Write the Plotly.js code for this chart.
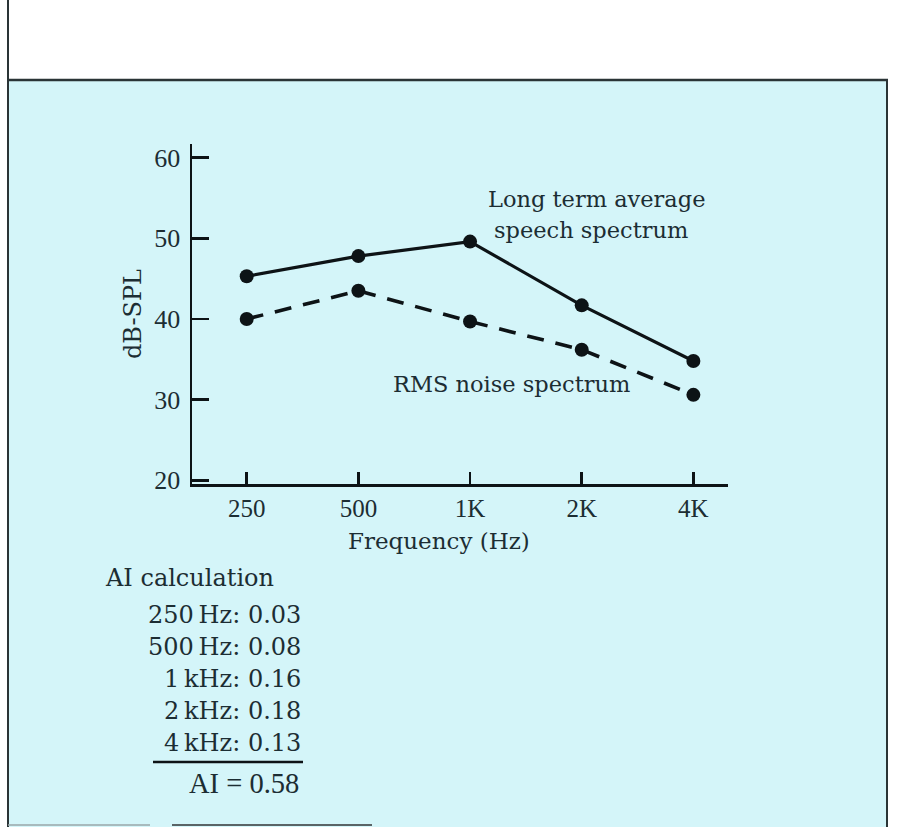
<!DOCTYPE html>
<html>
<head>
<meta charset="utf-8">
<script src="https://cdn.plot.ly/plotly-3.0.1.min.js"></script>
<style>html,body{margin:0;padding:0;background:#fff;}#chart{width:897px;height:827px;}</style>
</head>
<body>
<div id="chart"></div>
<script>
// ---- data ----
var freqLabels = ['250', '500', '1K', '2K', '4K'];
var speechLevels = [45.3, 47.8, 49.6, 41.7, 34.8];
var noiseLevels = [40.0, 43.5, 39.7, 36.2, 30.6];
var yTickVals = [20, 30, 40, 50, 60];
var aiBands = ['250\u2009Hz', '500\u2009Hz', '1\u2009kHz', '2\u2009kHz', '4\u2009kHz'];
var aiValues = ['0.03', '0.08', '0.16', '0.18', '0.13'];
var aiTotal = '0.58';

// ---- geometry helpers (pixel -> paper) ----
var W = 897, H = 827;
var M = {l: 192, r: 169, t: 144, b: 343};
var PW = W - M.l - M.r, PH = H - M.t - M.b;
function px(x) { return (x - M.l) / PW; }
function py(y) { return (H - M.b - y) / PH; }

var ink = '#1c2d33';
var lineInk = '#0d1316';
var serif = 'DejaVu Serif, serif';
var times = 'Liberation Serif, serif';

var traces = [
  {x: freqLabels, y: speechLevels, type: 'scatter', mode: 'lines+markers',
   line: {color: lineInk, width: 3.2}, marker: {color: lineInk, size: 14}, name: 'speech', showlegend: false},
  {x: freqLabels, y: noiseLevels, type: 'scatter', mode: 'lines+markers',
   line: {color: lineInk, width: 3.6, dash: '17px,12px'}, marker: {color: lineInk, size: 14}, name: 'noise', showlegend: false}
];

var ann = [];
function addText(txt, x, y, anchor, size, font) {
  ann.push({text: txt, xref: 'paper', yref: 'paper', x: px(x), y: py(y),
    xanchor: anchor, yanchor: 'middle', showarrow: false,
    font: {family: font || serif, size: size, color: ink}});
}
addText('Long term average', 596, 199, 'center', 22.5);
addText('speech spectrum', 591, 230, 'center', 22.5);
addText('RMS noise spectrum', 511, 384, 'center', 22.5);
addText('Frequency (Hz)', 439, 541, 'center', 23);
addText('AI calculation', 103, 578, 'left', 24);
var rowY = [615, 647, 679, 711, 743];
for (var i = 0; i < aiBands.length; i++) {
  addText(aiBands[i] + ': ' + aiValues[i], 303, rowY[i], 'right', 24);
}
addText('AI = ' + aiTotal, 301, 783, 'right', 28.5, times);

var shapes = [
  {type: 'rect', xref: 'paper', yref: 'paper', x0: px(8), x1: px(887), y0: py(827), y1: py(80),
   fillcolor: '#d4f5f9', line: {width: 0}, layer: 'below'},
  {type: 'line', xref: 'paper', yref: 'paper', x0: px(8), x1: px(8), y0: py(0), y1: py(827),
   line: {color: '#2a3436', width: 2}},
  {type: 'line', xref: 'paper', yref: 'paper', x0: px(8), x1: px(888), y0: py(80), y1: py(80),
   line: {color: '#2a3436', width: 2.5}},
  {type: 'line', xref: 'paper', yref: 'paper', x0: px(887), x1: px(887), y0: py(80), y1: py(827),
   line: {color: '#2a3436', width: 2}},
  {type: 'line', xref: 'paper', yref: 'paper', x0: px(153), x1: px(303), y0: py(762), y1: py(762),
   line: {color: lineInk, width: 2.5}},
  {type: 'line', xref: 'paper', yref: 'paper', x0: px(172), x1: px(372), y0: py(825), y1: py(825),
   line: {color: '#5a6466', width: 2}},
  {type: 'line', xref: 'paper', yref: 'paper', x0: px(8), x1: px(150), y0: py(825), y1: py(825),
   line: {color: '#9aa6a8', width: 1.5}}
];

var layout = {
  width: W, height: H,
  margin: M,
  paper_bgcolor: '#ffffff',
  plot_bgcolor: 'rgba(0,0,0,0)',
  showlegend: false,
  xaxis: {
    type: 'category', range: [-0.49, 4.31],
    showline: true, linecolor: lineInk, linewidth: 2.5,
    ticks: 'inside', ticklen: 12, tickwidth: 2.5, tickcolor: lineInk,
    showgrid: false, zeroline: false, ticklabelstandoff: 0,
    tickfont: {family: times, size: 25, color: ink}
  },
  yaxis: {
    range: [19.55, 61.7], tickvals: yTickVals,
    showline: true, linecolor: lineInk, linewidth: 2.5,
    ticks: 'inside', ticklen: 17, tickwidth: 2.5, tickcolor: lineInk,
    showgrid: false, zeroline: false, ticklabelstandoff: 4,
    tickfont: {family: times, size: 26, color: ink},
    title: {text: 'dB-SPL', font: {family: serif, size: 24, color: ink}, standoff: 6}
  },
  annotations: ann,
  shapes: shapes
};

Plotly.newPlot('chart', traces, layout, {staticPlot: true, displayModeBar: false});
</script>
</body>
</html>
